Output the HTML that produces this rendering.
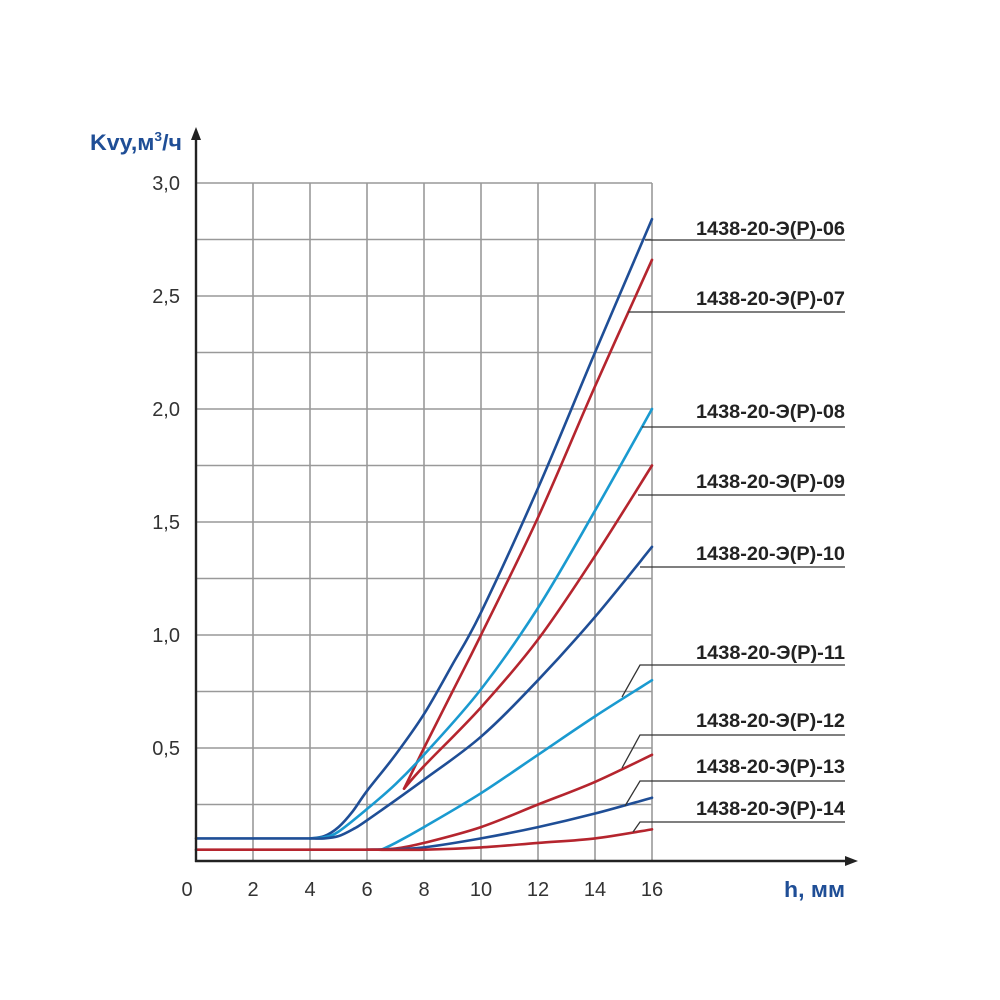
<!DOCTYPE html>
<html><head><meta charset="utf-8"><style>
body{margin:0;background:#fff;}
svg{display:block}
text{font-family:"Liberation Sans",sans-serif}
</style></head><body>
<svg id="s" width="1000" height="1000" viewBox="0 0 1000 1000" xmlns="http://www.w3.org/2000/svg">
<g stroke="#999" stroke-width="1.6" fill="none" id="grid"></g>
<g id="curves" fill="none" stroke-width="2.6" stroke-linecap="round"></g>
<g stroke="#222" stroke-width="2.4">
<line x1="196" y1="135" x2="196" y2="862"/>
<line x1="195" y1="861" x2="850" y2="861"/>
</g>
<path d="M196 127 L191 140 L201 140 Z" fill="#222"/>
<path d="M858 861 L845 856 L845 866 Z" fill="#222"/>
<g font-size="20" fill="#333" text-anchor="end">
<text x="180" y="190">3,0</text><text x="180" y="303">2,5</text><text x="180" y="416">2,0</text>
<text x="180" y="529">1,5</text><text x="180" y="642">1,0</text><text x="180" y="755">0,5</text>
</g>
<g font-size="20" fill="#333" text-anchor="middle">
<text x="187" y="896">0</text><text x="253" y="896">2</text><text x="310" y="896">4</text><text x="367" y="896">6</text>
<text x="424" y="896">8</text><text x="481" y="896">10</text><text x="538" y="896">12</text><text x="595" y="896">14</text><text x="652" y="896">16</text>
</g>
<text x="90" y="150" font-size="22" font-weight="bold" fill="#1f4e96" textLength="92" lengthAdjust="spacingAndGlyphs">Kvy,м<tspan font-size="13" dy="-9">3</tspan><tspan dy="9">/ч</tspan></text>
<text x="784" y="897" font-size="22" font-weight="bold" fill="#1f4e96" textLength="61" lengthAdjust="spacingAndGlyphs">h, мм</text>
<g id="labels" font-size="19" font-weight="bold" fill="#222"></g>
<g id="leaders" stroke="#333" stroke-width="1.3" fill="none"></g>
</svg>
<script>
const NS="http://www.w3.org/2000/svg";
function el(p,t,a){const e=document.createElementNS(NS,t);for(const k in a)e.setAttribute(k,a[k]);document.getElementById(p).appendChild(e);return e;}
const X=h=>196+h*28.5, Y=k=>861-k*226;
for(let i=1;i<=8;i++)el('grid','line',{x1:X(2*i),y1:183,x2:X(2*i),y2:861});
for(let i=1;i<=12;i++)el('grid','line',{x1:196,y1:Y(i*0.25),x2:X(16),y2:Y(i*0.25)});
function path(pts){pts=pts.map(p=>[X(p[0]),Y(p[1])]);let d="M"+pts[0][0]+" "+pts[0][1];
for(let i=0;i<pts.length-1;i++){const p0=pts[i-1]||pts[i],p1=pts[i],p2=pts[i+1],p3=pts[i+2]||p2;
d+=` C${p1[0]+(p2[0]-p0[0])/6} ${p1[1]+(p2[1]-p0[1])/6} ${p2[0]-(p3[0]-p1[0])/6} ${p2[1]-(p3[1]-p1[1])/6} ${p2[0]} ${p2[1]}`;}return d;}
const B="#1f4e96",R="#b5252e",L="#1a9ad0";
const C=[
[R,[[0,0.05],[3,0.05],[6,0.05]]],
[B,[[0,0.1],[2,0.1],[4,0.1]]],
[B,[[4,0.1],[4.5,0.11],[5,0.15],[5.5,0.22],[6,0.31],[7,0.47],[8,0.65],[9,0.87],[10,1.1],[12,1.65],[14,2.25],[16,2.84]]],
[R,[[7.3,0.32],[8,0.5],[9,0.75],[10,1.0],[12,1.52],[14,2.1],[16,2.66]]],
[L,[[4,0.1],[4.5,0.105],[5,0.13],[6,0.23],[7,0.34],[8,0.47],[10,0.76],[12,1.12],[14,1.55],[16,2.0]]],
[R,[[7.3,0.32],[8,0.42],[10,0.68],[12,0.98],[14,1.35],[16,1.75]]],
[B,[[4,0.1],[4.5,0.1],[5,0.11],[5.5,0.14],[6,0.18],[8,0.36],[10,0.55],[12,0.8],[14,1.08],[16,1.39]]],
[L,[[6.5,0.05],[7,0.08],[8,0.15],[10,0.3],[12,0.47],[14,0.64],[16,0.8]]],
[R,[[6,0.05],[7,0.055],[8,0.08],[10,0.15],[12,0.25],[14,0.35],[16,0.47]]],
[B,[[6,0.05],[7,0.052],[8,0.06],[10,0.1],[12,0.15],[14,0.21],[16,0.28]]],
[R,[[6,0.05],[8,0.05],[10,0.06],[12,0.08],[14,0.1],[16,0.14]]],
];
C.forEach(c=>el('curves','path',{d:path(c[1]),stroke:c[0]}));
const Lb=[["06",228,240,645,null],["07",298,312,628,null],["08",411,427,642,null],["09",481,495,638,null],["10",553,567,640,null],
["11",652,665,640,[622,697]],["12",720,735,640,[622,768]],["13",766,781,640,[625,806]],["14",808,822,640,[633,832]]];
Lb.forEach(l=>{const t=el('labels','text',{x:696,y:l[1]+7,textLength:149,lengthAdjust:"spacingAndGlyphs"});t.textContent="1438-20-Э(Р)-"+l[0];
let d=`M845 ${l[2]} L${l[3]} ${l[2]}`;if(l[4])d+=` L${l[4][0]} ${l[4][1]}`;el('leaders','path',{d});});
</script>
</body></html>
